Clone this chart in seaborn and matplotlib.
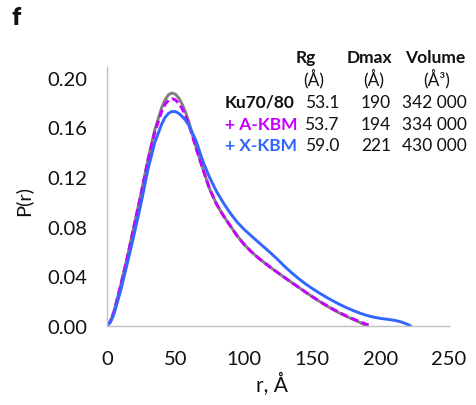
import numpy as np
import pandas as pd
import matplotlib
matplotlib.use("Agg")
import matplotlib.pyplot as plt
import seaborn as sns

# P(r) distributions
r_ku = [0, 2.5, 5, 10, 15, 20, 25, 30, 35, 40, 42.5, 45, 47.5, 50, 52.5, 55, 57.5, 60,
        65, 70, 75, 80, 85, 90, 95, 100, 105, 110, 115, 120, 125, 130, 135, 140, 145,
        150, 155, 160, 165, 170, 175, 180, 185, 190]
p_ku = [0.0, 0.0040, 0.0112, 0.0327, 0.0562, 0.0818, 0.1074, 0.1345, 0.1582, 0.1759,
        0.1822, 0.1862, 0.1876, 0.1866, 0.1834, 0.1785, 0.1718, 0.1636, 0.1442, 0.1268,
        0.1104, 0.0982, 0.0890, 0.0808, 0.0728, 0.0660, 0.0603, 0.0554, 0.0510, 0.0468,
        0.0428, 0.0389, 0.0350, 0.0312, 0.0274, 0.0236, 0.0200, 0.0166, 0.0134, 0.0104,
        0.0077, 0.0053, 0.0028, 0.0]

r_akbm = [0, 2.5, 5, 10, 15, 20, 25, 30, 35, 40, 42.5, 45, 47.5, 50, 52.5, 55, 57.5, 60,
          65, 70, 75, 80, 85, 90, 95, 100, 105, 110, 115, 120, 125, 130, 135, 140, 145,
          150, 155, 160, 165, 170, 175, 180, 185, 190, 194]
p_akbm = [0.0, 0.0040, 0.0112, 0.0327, 0.0560, 0.0815, 0.1068, 0.1336, 0.1562, 0.1728,
          0.1785, 0.1818, 0.1830, 0.1820, 0.1792, 0.1748, 0.1690, 0.1616, 0.1435, 0.1265,
          0.1104, 0.0982, 0.0890, 0.0808, 0.0728, 0.0660, 0.0603, 0.0554, 0.0510, 0.0468,
          0.0428, 0.0389, 0.0350, 0.0312, 0.0274, 0.0237, 0.0202, 0.0168, 0.0137, 0.0108,
          0.0081, 0.0057, 0.0033, 0.0013, 0.0]

r_xkbm = [0, 2.5, 5, 10, 15, 20, 25, 30, 35, 40, 42.5, 45, 47.5, 50, 52.5, 55, 57.5, 60,
          65, 70, 75, 80, 85, 90, 95, 100, 105, 110, 115, 120, 125, 130, 135, 140, 145,
          150, 155, 160, 165, 170, 175, 180, 185, 190, 195, 200, 205, 210, 215, 220, 222]
p_xkbm = [0.0, 0.0030, 0.0092, 0.0286, 0.0511, 0.0746, 0.0992, 0.1264, 0.1480, 0.1626,
          0.1680, 0.1712, 0.1727, 0.1726, 0.1712, 0.1686, 0.1655, 0.1612, 0.1493, 0.1329,
          0.1196, 0.1084, 0.0992, 0.0910, 0.0838, 0.0780, 0.0730, 0.0681, 0.0633, 0.0584,
          0.0533, 0.0478, 0.0428, 0.0382, 0.0340, 0.0302, 0.0267, 0.0234, 0.0203, 0.0174,
          0.0148, 0.0124, 0.0103, 0.0085, 0.0071, 0.0061, 0.0054, 0.0046, 0.0033, 0.0012,
          0.0]

# table in the upper right
names = ["Ku70/80", "+ A-KBM", "+ X-KBM"]
rg = ["53.1", "53.7", "59.0"]
dmax = ["190", "194", "221"]
volume = ["342 000", "334 000", "430 000"]

x_ticks = [0, 50, 100, 150, 200, 250]
y_ticks = [0.00, 0.04, 0.08, 0.12, 0.16, 0.20]

GRAY = "#7f7f7f"
PINK = "#c800ff"
BLUE = "#3366ff"
TEXT = "#111111"

df = pd.concat([
    pd.DataFrame({"r": r_ku, "P": p_ku, "sample": "Ku70/80"}),
    pd.DataFrame({"r": r_akbm, "P": p_akbm, "sample": "+ A-KBM"}),
    pd.DataFrame({"r": r_xkbm, "P": p_xkbm, "sample": "+ X-KBM"}),
], ignore_index=True)

sns.set_style("white")
plt.rcParams["font.family"] = ["Lato", "DejaVu Sans"]

W, H = 477, 406
fig = plt.figure(figsize=(W / 100, H / 100), dpi=100)
ax = fig.add_axes([107 / W, 1 - 327 / H, (449 - 107) / W, (327 - 68) / H])

line_kw = dict(x="r", y="P", lw=2.1, sort=False, estimator=None, ax=ax,
               solid_joinstyle="round", solid_capstyle="round")
sns.lineplot(data=df[df["sample"] == "Ku70/80"], color=GRAY, **line_kw)
sns.lineplot(data=df[df["sample"] == "+ A-KBM"], color=PINK, **line_kw)
ax.lines[-1].set_dashes((2.6, 1.3))
sns.lineplot(data=df[df["sample"] == "+ X-KBM"], color=BLUE, **line_kw)

ax.set_xlim(0, 250)
ax.set_ylim(0, 0.2085)
ax.set_xticks(x_ticks)
ax.set_yticks(y_ticks)
ax.set_xticklabels([str(v) for v in x_ticks])
ax.set_yticklabels([f"{v:.2f}" for v in y_ticks])
ax.tick_params(axis="both", length=0, labelsize=14.5, colors=TEXT)
ax.tick_params(axis="x", pad=17)
ax.tick_params(axis="y", pad=14)

for side in ["top", "right"]:
    ax.spines[side].set_visible(False)
for side in ["left", "bottom"]:
    ax.spines[side].set_color("#c0c0c0")
    ax.spines[side].set_linewidth(1.0)

ax.set_xlabel("")
ax.set_ylabel("")
fig.text(272 / W, 1 - 385 / H, "r, Å", ha="center", va="center", fontsize=15, color=TEXT)
fig.text(23 / W, 1 - 201 / H, "P(r)", ha="center", va="center", rotation=90,
         fontsize=14.5, color=TEXT)

# panel letter
fig.text(12 / W, 1 - 25 / H, "f", ha="left", va="baseline", fontsize=18,
         fontweight="heavy", color=TEXT)

# header
hdr = dict(va="baseline", fontsize=12.5, fontweight="bold", color=TEXT)
fig.text(306 / W, 1 - 63 / H, "Rg", ha="center", **hdr)
fig.text(369 / W, 1 - 63 / H, "Dmax", ha="center", **hdr)
fig.text(435 / W, 1 - 63 / H, "Volume", ha="center", **hdr)
unit = dict(va="baseline", fontsize=12.5, color=TEXT)
fig.text(314 / W, 1 - 85 / H, "(Å)", ha="center", **unit)
fig.text(374 / W, 1 - 85 / H, "(Å)", ha="center", **unit)
fig.text(437 / W, 1 - 85 / H, "(Å³)", ha="center", **unit)

row_colors = [TEXT, PINK, BLUE]
row_base = [108, 130.5, 151.5]
for i in range(len(names)):
    yb = 1 - row_base[i] / H
    fig.text(225 / W, yb, names[i], ha="left", va="baseline", fontsize=12.5,
             fontweight="bold", color=row_colors[i])
    fig.text(339 / W, yb, rg[i], ha="right", va="baseline", fontsize=12.5, color=TEXT)
    fig.text(376 / W, yb, dmax[i], ha="center", va="baseline", fontsize=12.5, color=TEXT)
    fig.text(467 / W, yb, volume[i], ha="right", va="baseline", fontsize=12.5, color=TEXT)

fig.savefig("out.png", dpi=100)
